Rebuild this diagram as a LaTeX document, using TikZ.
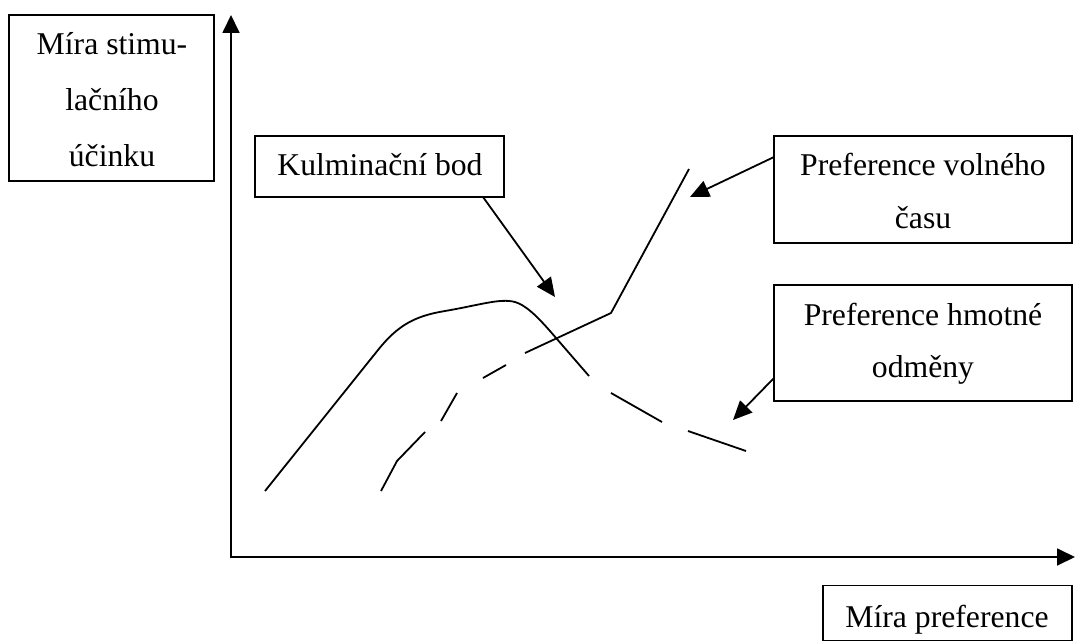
\documentclass[tikz,border=0pt]{standalone}
\usepackage{fontspec}
\setmainfont{Liberation Serif}
\usetikzlibrary{arrows.meta}
\begin{document}
\begin{tikzpicture}[x=1pt,y=-1pt,
  box/.style={draw, line width=1.8pt, inner sep=0pt, outer sep=0pt},
  lbl/.style={anchor=base, inner sep=0pt, font=\fontsize{31.7}{38}\selectfont},
  curve/.style={line width=1.8pt, line join=round},
  axis/.style={line width=1.8pt, {Triangle[length=18pt,width=17pt]}-{Triangle[length=18pt,width=17pt]}},
  callout/.style={line width=1.8pt, -{Triangle[length=19pt,width=17pt]}}]
\useasboundingbox (0,0) rectangle (1075,642);

% label boxes
\node[box, minimum width=205pt, minimum height=166pt] (b1) at (111.5,98) {};
\node[box, minimum width=249pt, minimum height=61pt] (kb) at (379.5,166.5) {};
\node[box, minimum width=298pt, minimum height=107pt] (pv) at (923,189.5) {};
\node[box, minimum width=298pt, minimum height=116pt] (ph) at (923,343) {};
\node[box, minimum width=249pt, minimum height=55pt] (mp) at (947.5,613) {};

% box texts
\node[lbl] (b1a) at (112,55) {Míra stimu-};
\node[lbl] (b1b) at (112,110) {lačního};
\node[lbl] (b1c) at (112,166) {účinku};
\node[lbl] (kbt) at (380,175) {Kulminační bod};
\node[lbl] (pva) at (923,175) {Preference volného};
\node[lbl] (pvb) at (923,228) {času};
\node[lbl] (pha) at (923,325) {Preference hmotné};
\node[lbl] (phb) at (923,377) {odměny};
\node[lbl] (mpt) at (947,627) {Míra preference};

% axes
\coordinate (o) at (231,557);
\coordinate (ytip) at (231,15);
\coordinate (xtip) at (1075,557);
\draw[axis] (ytip) -- (o) -- (xtip);

% curve of material reward: solid rise, then dashed fall
\draw[curve] (265,491) -- (378,350)
  .. controls (398,325) and (415,316) .. (445,311)
  .. controls (480,305) and (500,298) .. (515,302)
  .. controls (525,305) and (535,314) .. (550,331)
  -- (589,376);
\draw[curve] (611,393) -- (662,422);
\draw[curve] (688,431) -- (746,451);

% curve of leisure time: dashed rise, then solid
\draw[curve] (381,491) -- (397,461) -- (425,432);
\draw[curve] (441,421) -- (457,393);
\draw[curve] (483,378) -- (506,365);
\draw[curve] (525,353) -- (611,313) -- (689,169);

% callout arrows
\coordinate (kbfoot) at (483,197);
\coordinate (kbtip) at (555,297);
\draw[callout] (kbfoot) -- (kbtip);
\coordinate (pvfoot) at (774,157);
\coordinate (pvtip) at (690,197);
\draw[callout] (pvfoot) -- (pvtip);
\coordinate (phfoot) at (774,378);
\coordinate (phtip) at (733,420);
\draw[callout] (phfoot) -- (phtip);
\end{tikzpicture}
\end{document}
